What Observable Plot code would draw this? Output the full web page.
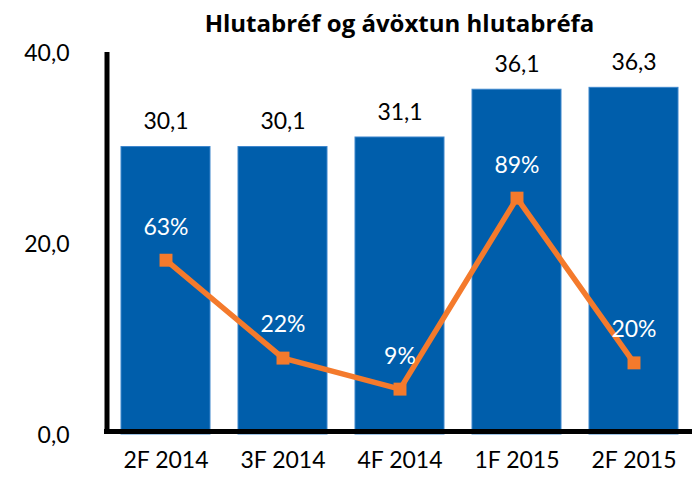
<!DOCTYPE html>
<html>
<head>
<meta charset="utf-8">
<script src="https://cdn.jsdelivr.net/npm/d3@7"></script>
<script src="https://cdn.jsdelivr.net/npm/@observablehq/plot@0.6"></script>
<style>
  html, body { margin: 0; padding: 0; background: #fff; }
  #title { height: 30px; line-height: 30px; padding-top: 8px; font-family: "Open Sans", sans-serif; font-weight: bold; font-size: 24px; text-align: center; padding-left: 107px; padding-right: 2px; color: #000; width: 694px; box-sizing: content-box; width: 585px; white-space: nowrap; }
</style>
</head>
<body>
<div id="title">Hlutabréf og ávöxtun hlutabréfa</div>
<div id="chart"></div>
<script>
const categories = ["2F 2014", "3F 2014", "4F 2014", "1F 2015", "2F 2015"];
const holdings = [30.1, 30.1, 31.1, 36.1, 36.3];
const returnsPct = [63, 22, 9, 89, 20];
const yTicks = [0, 20, 40];
// hidden secondary axis for the return line (percent)
const secondaryDomain = [-10, 150];
const primaryDomain = [0, 40];

const fmt = v => v.toFixed(1).replace(".", ",");
const toPrimary = p => primaryDomain[0] + (p - secondaryDomain[0]) / (secondaryDomain[1] - secondaryDomain[0]) * (primaryDomain[1] - primaryDomain[0]);

const bars = categories.map((c, i) => ({cat: c, value: holdings[i]}));
const line = categories.map((c, i) => ({cat: c, pct: returnsPct[i], y: toPrimary(returnsPct[i])}));

const FONT = "Lato, sans-serif";
const BLUE = "#005EAB";
const ORANGE = "#F47A2C";

const axisLines = (index, scales, values, dims) => {
  const g = d3.create("svg:g");
  const xl = dims.marginLeft;
  const xr = dims.width - dims.marginRight;
  const y0 = scales.y(0), y40 = scales.y(40);
  g.append("line").attr("x1", xl).attr("x2", xl).attr("y1", y40).attr("y2", y0 - 2)
    .attr("stroke", "#000").attr("stroke-width", 5);
  g.append("line").attr("x1", xl - 3).attr("x2", xr).attr("y1", y0 - 2.5).attr("y2", y0 - 2.5)
    .attr("stroke", "#000").attr("stroke-width", 5);
  return g.node();
};

const chart = Plot.plot({
  width: 694,
  height: 442,
  marginLeft: 107,
  marginRight: 2,
  marginTop: 14,
  marginBottom: 46,
  style: {fontFamily: FONT, fontSize: "23px", background: "#fff"},
  x: {domain: categories, paddingInner: 0.2425, paddingOuter: 0.119, axis: null},
  y: {domain: primaryDomain, axis: null},
  marks: [
    Plot.barY(bars, {x: "cat", y: "value", fill: BLUE, stroke: "#3d86cc", strokeWidth: 1}),
    axisLines,
    Plot.text(yTicks, {y: d => d, text: d => fmt(d), frameAnchor: "left", dx: -38, dy: 1.5, textAnchor: "end", fill: "#000", fontSize: 23}),
    Plot.text(categories, {x: d => d, text: d => d, frameAnchor: "bottom", dy: 33.5, fill: "#000", fontSize: 23}),
    Plot.text(bars, {x: "cat", y: "value", text: d => fmt(d.value), dy: -25, fill: "#000", fontSize: 23}),
    Plot.line(line, {x: "cat", y: "y", stroke: ORANGE, strokeWidth: 5.5}),
    Plot.dot(line, {x: "cat", y: "y", symbol: "square", r: 7.3, fill: ORANGE, stroke: "none"}),
    Plot.text(line, {x: "cat", y: "y", text: d => d.pct + "%", dy: -33, fill: "#fff", fontSize: 23})
  ]
});
document.getElementById("chart").appendChild(chart);
</script>
</body>
</html>
